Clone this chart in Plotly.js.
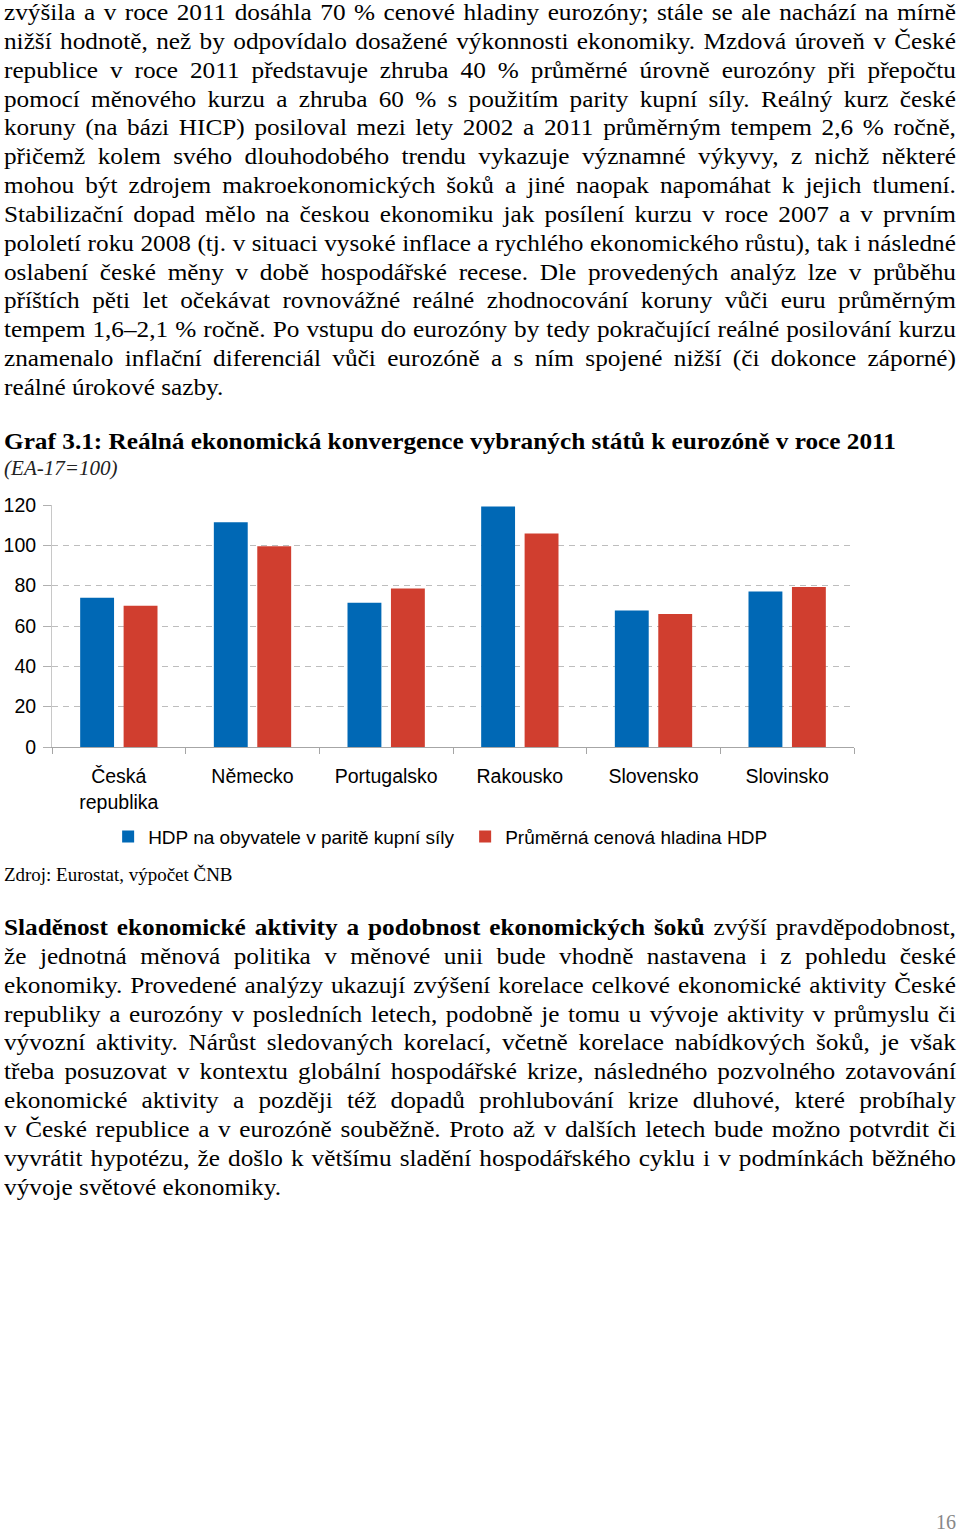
<!DOCTYPE html>
<html>
<head>
<meta charset="utf-8">
<script src="https://cdn.plot.ly/plotly-3.0.1.min.js"></script>
<style>
  body { margin: 0; background: #fff; }
  #page { position: relative; width: 960px; height: 1533px; overflow: hidden;
          font-family: "Liberation Serif", "Times New Roman", serif; color: #000; }
  .sx { transform: scaleX(1.053); transform-origin: 0 0; }
  .para { position: absolute; left: 4px; width: 904px; font-size: 24px; line-height: 28.85px; }
  .ln { white-space: nowrap; text-align: justify; text-align-last: justify; }
  .ln.last { text-align-last: left; }
  #graf-title { position: absolute; left: 4px; top: 428px; font-size: 24px; font-weight: bold; white-space: nowrap; }
  #graf-sub { position: absolute; left: 4px; top: 457px; font-size: 20px; font-style: italic; color: #222; }
  #zdroj { position: absolute; left: 4px; top: 865px; font-size: 18px; }
  #pg { position: absolute; left: 936px; top: 1512px; height: 20px; font-size: 20px; line-height: 20px; color: #888; }
  #graf { position: absolute; left: 0; top: 490px; width: 960px; height: 380px; }
</style>
</head>
<body>
<div id="page">
  <div class="para sx" id="p1" style="top:-2px"></div>
  <div id="graf-title" class="sx">Graf 3.1: Reálná ekonomická konvergence vybraných států k eurozóně v roce 2011</div>
  <div id="graf-sub" class="sx">(EA-17=100)</div>
  <div id="graf"></div>
  <div id="zdroj" class="sx">Zdroj: Eurostat, výpočet ČNB</div>
  <div class="para sx" id="p2" style="top:913px"></div>
  <div id="pg">16</div>
</div>
<script>
// data grafu
const staty = ["Česká<br>republika", "Německo", "Portugalsko", "Rakousko", "Slovensko", "Slovinsko"];
const hdpPps = [74, 111.4, 71.5, 119.3, 67.7, 77.1];
const cenHladina = [70, 99.5, 78.6, 105.9, 66, 79.4];
const nazvySerii = ["HDP na obyvatele v paritě kupní síly", "Průměrná cenová hladina HDP"];
const yTicky = [0, 20, 40, 60, 80, 100, 120];

// text stranky po radcich
const odst1 = [
  "zvýšila a v roce 2011 dosáhla 70 % cenové hladiny eurozóny; stále se ale nachází na mírně",
  "nižší hodnotě, než by odpovídalo dosažené výkonnosti ekonomiky. Mzdová úroveň v České",
  "republice v roce 2011 představuje zhruba 40 % průměrné úrovně eurozóny při přepočtu",
  "pomocí měnového kurzu a zhruba 60 % s použitím parity kupní síly. Reálný kurz české",
  "koruny (na bázi HICP) posiloval mezi lety 2002 a 2011 průměrným tempem 2,6 % ročně,",
  "přičemž kolem svého dlouhodobého trendu vykazuje významné výkyvy, z nichž některé",
  "mohou být zdrojem makroekonomických šoků a jiné naopak napomáhat k jejich tlumení.",
  "Stabilizační dopad mělo na českou ekonomiku jak posílení kurzu v roce 2007 a v prvním",
  "pololetí roku 2008 (tj. v situaci vysoké inflace a rychlého ekonomického růstu), tak i následné",
  "oslabení české měny v době hospodářské recese. Dle provedených analýz lze v průběhu",
  "příštích pěti let očekávat rovnovážné reálné zhodnocování koruny vůči euru průměrným",
  "tempem 1,6–2,1 % ročně. Po vstupu do eurozóny by tedy pokračující reálné posilování kurzu",
  "znamenalo inflační diferenciál vůči eurozóně a s ním spojené nižší (či dokonce záporné)",
  "reálné úrokové sazby."
];
const odst2 = [
  "<b>Sladěnost ekonomické aktivity a podobnost ekonomických šoků</b> zvýší pravděpodobnost,",
  "že jednotná měnová politika v měnové unii bude vhodně nastavena i z pohledu české",
  "ekonomiky. Provedené analýzy ukazují zvýšení korelace celkové ekonomické aktivity České",
  "republiky a eurozóny v posledních letech, podobně je tomu u vývoje aktivity v průmyslu či",
  "vývozní aktivity. Nárůst sledovaných korelací, včetně korelace nabídkových šoků, je však",
  "třeba posuzovat v kontextu globální hospodářské krize, následného pozvolného zotavování",
  "ekonomické aktivity a později též dopadů prohlubování krize dluhové, které probíhaly",
  "v České republice a v eurozóně souběžně. Proto až v dalších letech bude možno potvrdit či",
  "vyvrátit hypotézu, že došlo k většímu sladění hospodářského cyklu i v podmínkách běžného",
  "vývoje světové ekonomiky."
];

function vypis(id, radky) {
  const el = document.getElementById(id);
  const sirka = el.offsetWidth - 1;
  radky.forEach(function (r, i) {
    const d = document.createElement("div");
    d.className = "ln" + (i === radky.length - 1 ? " last" : "");
    el.appendChild(d);
    // kdyz se radek nevejde, trochu stahnout pismena
    const s = document.createElement("span");
    s.innerHTML = r;
    d.appendChild(s);
    const w = s.offsetWidth;
    d.innerHTML = r;
    if (w > sirka) {
      d.style.letterSpacing = ((sirka - w) / s.textContent.length) + "px";
    }
  });
}
vypis("p1", odst1);
vypis("p2", odst2);

const data = [
  { x: staty, y: hdpPps, name: nazvySerii[0], type: "bar", marker: { color: "#0068B5" }, hoverinfo: "y" },
  { x: staty, y: cenHladina, name: nazvySerii[1], type: "bar", marker: { color: "#D03E2F" }, hoverinfo: "y" }
];

const layout = {
  width: 960, height: 380,
  margin: { l: 52, r: 106, t: 15, b: 123 },
  barmode: "group", bargap: 0.35, bargroupgap: 0.22,
  paper_bgcolor: "#fff", plot_bgcolor: "#fff",
  font: { family: "Liberation Sans, Arial, sans-serif", size: 19, color: "#000" },
  xaxis: {
    showline: true, linecolor: "#A6A6A6", linewidth: 1,
    ticks: "outside", tickson: "boundaries", ticklen: 6, tickcolor: "#A6A6A6",
    ticklabelstandoff: 12, tickfont: { size: 19.5 }, showgrid: false
  },
  yaxis: {
    range: [0, 120], tickvals: yTicky, ticktext: yTicky.map(String),
    showline: true, linecolor: "#C8C8C8", linewidth: 1,
    ticks: "outside", ticklen: 8, tickcolor: "#B0B0B0", ticklabelstandoff: 3,
    showgrid: true, gridcolor: "#BDBDBD", griddash: "6px,5px", gridwidth: 1,
    zeroline: false, tickfont: { size: 19.5 }
  },
  showlegend: true,
  legend: {
    orientation: "h", x: 0.07, xanchor: "left", y: -0.37, yanchor: "middle",
    font: { size: 19 }, itemwidth: 30, entrywidth: 312, traceorder: "normal"
  }
};

Plotly.newPlot("graf", data, layout, { displayModeBar: false, staticPlot: true });
</script>
</body>
</html>
